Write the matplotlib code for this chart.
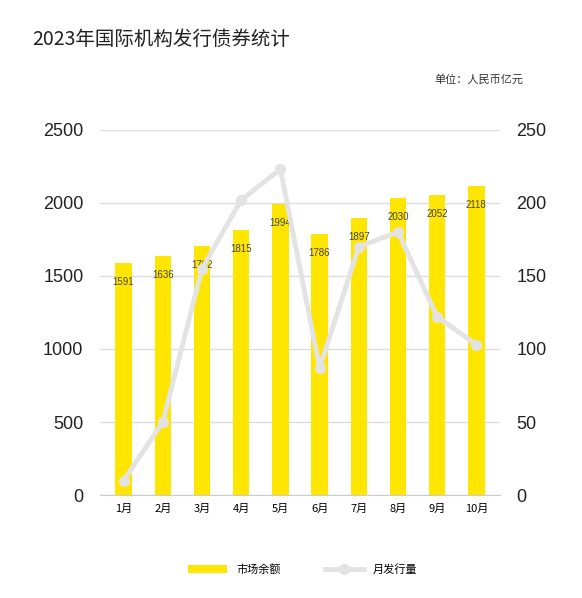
import matplotlib.pyplot as plt
import numpy as np
plt.rcParams['font.family'] = ['Noto Sans CJK SC', 'DejaVu Sans']

months = ['1月','2月','3月','4月','5月','6月','7月','8月','9月','10月']
balance = [1591,1636,1702,1815,1994,1786,1897,2030,2052,2118]
issuance = [10,50,155,202,223,87,170,180,122,103]

fig = plt.figure(figsize=(5.82,5.98), dpi=100)
ax = fig.add_axes([0.172,0.172,0.687,0.611])
x = np.arange(len(months))
ax.bar(x, balance, width=0.42, color='#FFE600', zorder=2, label='市场余额')
for xi, v in zip(x, balance):
    ax.text(xi, v-130, str(v), ha='center', va='center', fontsize=7, color='#444444', zorder=5, family='Liberation Sans')
ax.set_ylim(0,2500)
ax.set_yticks(range(0,2501,500))
ax.set_xlim(-0.6, len(months)-0.4)
ax.set_xticks(x)
ax.set_xticklabels(months, fontsize=8)
ax.grid(axis='y', color='#dddddd', lw=1, zorder=0)
ax.tick_params(axis='y', labelsize=13, length=0, pad=12, labelcolor='#222222')
ax.tick_params(axis='x', length=0, pad=6)
for lab in ax.get_yticklabels(): lab.set_family('Liberation Sans')
for s in ax.spines.values(): s.set_visible(False)
ax.spines['bottom'].set_visible(True); ax.spines['bottom'].set_color('#cccccc')

ax2 = ax.twinx()
ax2.plot(x, issuance, color='#e3e3e3', lw=3.5, marker='o', ms=7, zorder=3, label='月发行量')
ax2.set_ylim(0,250)
ax2.set_yticks(range(0,251,50))
ax2.tick_params(axis='y', labelsize=13, length=0, pad=12, labelcolor='#222222')
for lab in ax2.get_yticklabels(): lab.set_family('Liberation Sans')
for s in ax2.spines.values(): s.set_visible(False)

fig.text(0.055,0.925,'2023年国际机构发行债券统计', fontsize=14, color='#222222')
fig.text(0.9,0.862,'单位：人民币亿元', fontsize=8, ha='right', color='#333333')
h1,l1 = ax.get_legend_handles_labels(); h2,l2 = ax2.get_legend_handles_labels()
fig.legend(h1+h2, l1+l2, loc='center', bbox_to_anchor=(0.52,0.047), ncol=2, frameon=False, fontsize=8, handlelength=3.5, columnspacing=4)
fig.savefig('out.png', dpi=100)
